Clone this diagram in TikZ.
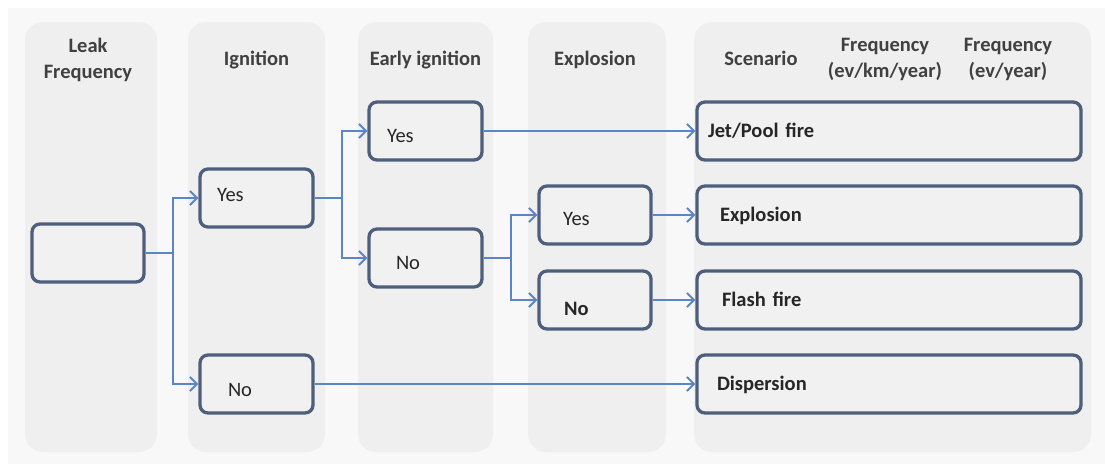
\documentclass[tikz,border=0pt]{standalone}
\usepackage{fontspec}
\setmainfont{Carlito}
\usepackage{tikz}
\usetikzlibrary{arrows.meta}

\definecolor{pagegray}{HTML}{F8F8F8}
\definecolor{lanegray}{HTML}{EFEFEF}
\definecolor{boxline}{HTML}{4E5F7D}
\definecolor{boxfill}{HTML}{F1F1F1}
\definecolor{flowblue}{HTML}{5B86C5}
\definecolor{hdrtext}{HTML}{404040}

% indent and raise of a label inside a box
\newcommand{\intext}[3]{\hspace*{#1pt}\raisebox{#2pt}{#3}}

\begin{document}
\begin{tikzpicture}[x=1pt, y=-1pt,
  lane/.style={fill=lanegray, rounded corners=18pt, minimum width=#1,
               minimum height=430pt, inner sep=0pt},
  hdr/.style={font=\fontsize{20.5}{26}\selectfont\bfseries, text=hdrtext,
              align=center, inner sep=0pt},
  choice/.style={draw=boxline, line width=3.3pt, fill=boxfill, rounded corners=8pt,
                 minimum width=#1, text width=#1, minimum height=58pt,
                 inner xsep=0pt, inner ysep=0pt, text height=13pt, text depth=0pt,
                 align=left, font=\fontsize{20.5}{24}\selectfont, text=black!85},
  outcome/.style={choice=384pt, font=\fontsize{20.5}{24}\selectfont\bfseries},
  flow/.style={draw=flowblue, line width=2pt,
               -{Straight Barb[length=7pt, width=14pt, line width=2pt]}}]
\useasboundingbox (0,0) rectangle (1105,464);
\fill[white] (0,0) rectangle (1105,464);
\fill[pagegray] (8,8) rectangle (1105,464);

% lanes
\node[lane=132pt] (laneLeak)  at (91,237)    {};
\node[lane=137pt] (laneIgn)   at (256.5,237) {};
\node[lane=135pt] (laneEarly) at (425.5,237) {};
\node[lane=138pt] (laneExp)   at (597,237)   {};
\node[lane=397pt] (laneScen)  at (892.5,237) {};

% headers (base = last line)
\node[hdr, anchor=base] (hLeak)  at (88,78)    {Leak\\Frequency};
\node[hdr, anchor=base] (hIgn)   at (256.5,65) {Ignition};
\node[hdr, anchor=base] (hEarly) at (425.5,65) {Early ignition};
\node[hdr, anchor=base] (hExp)   at (595,65)   {Explosion};
\node[hdr, anchor=base] (hScen)  at (761,65)   {Scenario};
\node[hdr, anchor=base] (hFkm)   at (885,77)   {Frequency\\(ev/km/year)};
\node[hdr, anchor=base] (hFyr)   at (1008,77)  {Frequency\\(ev/year)};

% boxes
\node[choice=112pt] (leak) at (88,253)    {};
\node[choice=113pt] (ignY) at (256.5,198) {\intext{17}{3.5}{Yes}};
\node[choice=113pt] (ignN) at (256.5,384) {\intext{28}{-5.5}{No}};
\node[choice=113pt] (earY) at (425.5,131) {\intext{18}{-5}{Yes}};
\node[choice=113pt] (earN) at (425.5,258) {\intext{27}{-5}{No}};
\node[choice=112pt] (expY) at (595,215)   {\intext{24}{-3.5}{Yes}};
\node[choice=112pt] (expN) at (595,300)   {\intext{25}{-9}{\bfseries No}};
\node[outcome] (jet)   at (889,131) {\intext{11}{0}{Jet/Pool fire}};
\node[outcome] (expl)  at (889,215) {\intext{23}{0}{Explosion}};
\node[outcome] (flash) at (889,300) {\intext{25}{0}{Flash fire}};
\node[outcome] (disp)  at (889,384) {\intext{20}{0}{Dispersion}};

% branches
\draw[flow] (leak.east) -- ++(27,0) |- (ignY.west);
\draw[flow] (leak.east) -- ++(27,0) |- (ignN.west);
\draw[flow] (ignY.east) -- ++(27,0) |- (earY.west);
\draw[flow] (ignY.east) -- ++(27,0) |- (earN.west);
\draw[flow] (earN.east) -- ++(27,0) |- (expY.west);
\draw[flow] (earN.east) -- ++(27,0) |- (expN.west);
\draw[flow] (earY) -- (jet);
\draw[flow] (expY) -- (expl);
\draw[flow] (expN) -- (flash);
\draw[flow] (ignN) -- (disp);
\end{tikzpicture}
\end{document}
